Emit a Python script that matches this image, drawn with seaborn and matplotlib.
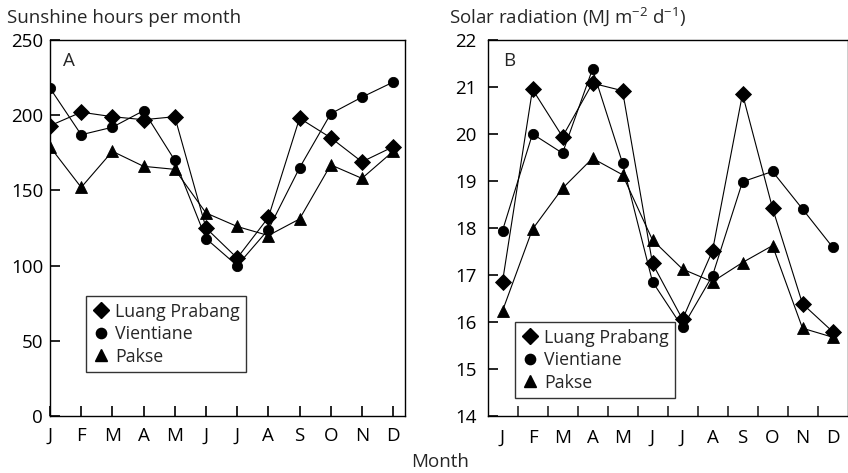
import matplotlib
matplotlib.use("Agg")
import matplotlib.pyplot as plt
import seaborn as sns
import pandas as pd
from matplotlib.lines import Line2D

# Month labels and station names
months = ["J", "F", "M", "A", "M", "J", "J", "A", "S", "O", "N", "D"]
stations = ["Luang Prabang", "Vientiane", "Pakse"]

# Panel A: sunshine hours per month
sun_luang_prabang = [193, 202, 199, 197, 199, 125, 105, 132, 198, 185, 169, 179]
sun_vientiane = [218, 187, 192, 203, 170, 118, 100, 124, 165, 201, 212, 222]
sun_pakse = [179, 152, 176, 166, 164, 135, 126, 120, 131, 167, 158, 176]

# Panel B: solar radiation (MJ m-2 d-1)
rad_luang_prabang = [16.86, 20.96, 19.95, 21.09, 20.93, 17.25, 16.06, 17.52, 20.86, 18.43, 16.39, 15.80]
rad_vientiane = [17.95, 20.01, 19.60, 21.39, 19.39, 16.86, 15.89, 16.99, 18.99, 19.21, 18.41, 17.60]
rad_pakse = [16.24, 17.98, 18.85, 19.49, 19.14, 17.75, 17.13, 16.86, 17.27, 17.63, 15.87, 15.68]

sns.set_style("ticks")
FONT = ["Open Sans", "DejaVu Sans"]
plt.rcParams["font.family"] = FONT
plt.rcParams["mathtext.fontset"] = "custom"
plt.rcParams["mathtext.rm"] = "Open Sans"
plt.rcParams["mathtext.it"] = "Open Sans"
FS = 13.5
LEG_FS = 12.8

marker_style = {
    "Luang Prabang": ("D", 7.8),
    "Vientiane": ("o", 7.4),
    "Pakse": ("^", 8.0),
}

fig = plt.figure(figsize=(8.48, 4.73), dpi=100)
axA = fig.add_axes([50 / 848, 1 - 416 / 473, 355 / 848, 376 / 473])
axB = fig.add_axes([487.5 / 848, 1 - 416 / 473, 360 / 848, 375.5 / 473])


def long_frame(series):
    rows = []
    for name, vals in zip(stations, series):
        for i, v in enumerate(vals):
            rows.append({"station": name, "month": i, "value": v})
    return pd.DataFrame(rows)


def draw(ax, df):
    for name in stations:
        m, ms = marker_style[name]
        sns.lineplot(data=df[df.station == name], x="month", y="value", ax=ax,
                     color="black", lw=0.8, marker=m, markersize=ms,
                     markeredgecolor="black", markeredgewidth=0.6,
                     legend=False, errorbar=None)
    ax.set_xlabel("")
    ax.set_ylabel("")
    handles = [Line2D([], [], ls="none", color="black", marker=marker_style[n][0],
                      markersize=marker_style[n][1]) for n in stations]
    return handles


dfA = long_frame([sun_luang_prabang, sun_vientiane, sun_pakse])
dfB = long_frame([rad_luang_prabang, rad_vientiane, rad_pakse])

hA = draw(axA, dfA)
hB = draw(axB, dfB)

for ax in (axA, axB):
    for s in ax.spines.values():
        s.set_linewidth(1.0)
        s.set_color("black")
    ax.tick_params(axis="both", direction="in", length=7, width=1.2,
                   labelsize=FS, colors="black", top=False, right=False)

# Panel A axes
axA.set_xlim(0, 11.38)
axA.set_ylim(0, 250)
axA.set_yticks(range(0, 251, 50))
axA.set_xticks(range(12))
axA.set_xticklabels(months)
axA.tick_params(axis="x", pad=8)
axA.tick_params(axis="y", pad=5)

# Panel B axes: labels at month centres, tick marks between months
axB.set_xlim(-0.5, 11.5)
axB.set_ylim(14, 22)
axB.set_yticks(range(14, 23))
axB.set_xticks(range(12))
axB.set_xticklabels(months)
axB.set_xticks([i + 0.5 for i in range(11)], minor=True)
axB.tick_params(axis="x", which="major", length=0, pad=9)
axB.tick_params(axis="x", which="minor", direction="in", length=7, width=1.2)
axB.tick_params(axis="y", pad=8)

leg_kw = dict(fontsize=LEG_FS, frameon=True, fancybox=False, edgecolor="black",
              handletextpad=0.3, handlelength=1.0, borderpad=0.35, labelspacing=0.25,
              borderaxespad=0, loc="upper left")
legA = axA.legend(hA, stations, bbox_to_anchor=(36 / 355, 1 - 256.5 / 376), **leg_kw)
legA.get_frame().set_linewidth(1.0)
legB = axB.legend(hB, stations, bbox_to_anchor=(27.5 / 360, 1 - 282 / 375.5), **leg_kw)
legB.get_frame().set_linewidth(1.0)

axA.text(62.5 / 848, 1 - 65.5 / 473, "A", transform=fig.transFigure, fontsize=FS, va="baseline")
axB.text(503 / 848, 1 - 65.5 / 473, "B", transform=fig.transFigure, fontsize=FS, va="baseline")

fig.text(7 / 848, 1 - 23 / 473, "Sunshine hours per month", fontsize=FS, va="baseline")
fig.text(449 / 848, 1 - 23 / 473, r"Solar radiation (MJ m$^{-2}$ d$^{-1}$)", fontsize=FS, va="baseline")
fig.text(411.5 / 848, 1 - 467 / 473, "Month", fontsize=FS, va="baseline")

fig.savefig("out.png", dpi=100)
